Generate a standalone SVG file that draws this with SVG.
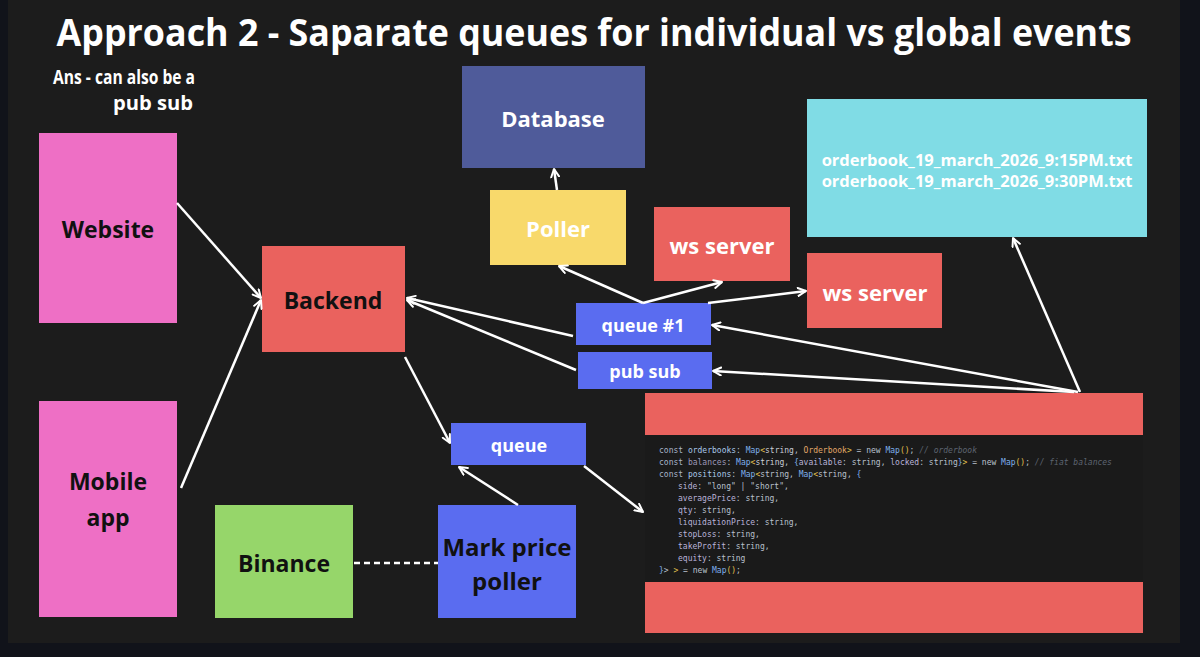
<svg xmlns="http://www.w3.org/2000/svg" width="1200" height="657" viewBox="0 0 1200 657">
<defs>
<marker id="ah" viewBox="0 0 10 10" refX="9" refY="5" markerWidth="10" markerHeight="10" markerUnits="userSpaceOnUse" orient="auto">
<path d="M1,1 L9,5 L1,9" fill="none" stroke="#ffffff" stroke-width="2" stroke-linecap="round" stroke-linejoin="round"/>
</marker>
<style>
.lbl{font-family:"Open Sans","Liberation Sans",sans-serif;font-weight:700;text-anchor:middle;dominant-baseline:central}
.w{fill:#ffffff}
.k{fill:#111111}
.conn{stroke:#ffffff;stroke-width:2.5;fill:none;marker-end:url(#ah)}
.code{font-family:"DejaVu Sans Mono","Liberation Mono",monospace;font-size:8px;fill:#b9c0cc}
.kw{fill:#a8b4c8}.id{fill:#a9c7e8}.ty{fill:#7fb0ec}.br{fill:#e3c14e}.ob{fill:#e2a769}.cm{fill:#5d6470;font-style:italic}.pr{fill:#b9b3d9}.st{fill:#c9cdd6}.dim{fill:#9d98b8}
</style>
</defs>
<rect x="0" y="0" width="1200" height="657" fill="#11131a"/>
<rect x="8" y="0" width="1172" height="643" fill="#1c1c1c"/>
<text x="594" y="46" font-family="Open Sans, Liberation Sans, sans-serif" font-weight="700" font-size="38" fill="#ffffff" text-anchor="middle" textLength="1075" lengthAdjust="spacingAndGlyphs">Approach 2 - Saparate queues for individual vs global events</text>
<text x="124" y="84" font-family="Open Sans, Liberation Sans, sans-serif" font-weight="700" font-size="20" fill="#ffffff" text-anchor="middle" textLength="142" lengthAdjust="spacingAndGlyphs">Ans - can also be a</text>
<text x="153" y="110" font-family="Open Sans, Liberation Sans, sans-serif" font-weight="700" font-size="20" fill="#ffffff" text-anchor="middle" textLength="80" lengthAdjust="spacingAndGlyphs">pub sub</text>

<g id="database"><rect x="462" y="66" width="183" height="102" fill="#4f5b9a"/><text class="lbl w" x="553" y="118" font-size="22">Database</text></g>
<g id="poller"><rect x="490" y="190" width="136" height="75" fill="#f8d96b"/><text class="lbl w" x="558" y="228" font-size="22">Poller</text></g>
<g id="ws1"><rect x="654" y="207" width="136" height="74" fill="#ea625e"/><text class="lbl w" x="722" y="245" font-size="22">ws server</text></g>
<g id="ws2"><rect x="807" y="253" width="135" height="75" fill="#ea625e"/><text class="lbl w" x="875" y="292" font-size="22">ws server</text></g>
<g id="files"><rect x="807" y="99" width="340" height="138" fill="#80dce5"/>
<text class="lbl w" x="977" y="159" font-size="16.5">orderbook_19_march_2026_9:15PM.txt</text>
<text class="lbl w" x="977" y="180" font-size="16.5">orderbook_19_march_2026_9:30PM.txt</text></g>
<g id="website"><rect x="39" y="133" width="138" height="190" fill="#ee6fc5"/><text class="lbl k" x="108" y="229" font-size="23">Website</text></g>
<g id="mobile"><rect x="39" y="401" width="138" height="216" fill="#ee6fc5"/><text class="lbl k" x="108" y="481" font-size="23">Mobile</text><text class="lbl k" x="108" y="517" font-size="23">app</text></g>
<g id="backend"><rect x="262" y="246" width="143" height="106" fill="#ea625e"/><text class="lbl k" x="333" y="300" font-size="23">Backend</text></g>
<g id="queue1"><rect x="576" y="303" width="135" height="42" fill="#5a6cf0"/><text class="lbl w" x="643" y="325" font-size="18">queue #1</text></g>
<g id="pubsub"><rect x="578" y="352" width="134" height="37" fill="#5a6cf0"/><text class="lbl w" x="645" y="371" font-size="18">pub sub</text></g>
<g id="queue"><rect x="451" y="423" width="135" height="42" fill="#5a6cf0"/><text class="lbl w" x="519" y="445" font-size="18">queue</text></g>
<g id="binance"><rect x="215" y="505" width="138" height="113" fill="#96d66a"/><text class="lbl k" x="284" y="563" font-size="23">Binance</text></g>
<g id="markprice"><rect x="438" y="505" width="138" height="113" fill="#5a6cf0"/><text class="lbl k" x="507" y="546" font-size="24">Mark price</text><text class="lbl k" x="507" y="580" font-size="24">poller</text></g>

<g id="engine">
<rect x="645" y="393" width="498" height="240" fill="#1a1a1a"/>
<rect x="645" y="393" width="498" height="42" fill="#ea625e"/>
<rect x="645" y="582" width="498" height="51" fill="#ea625e"/>
<text class="code" xml:space="preserve"><tspan x="659" y="453"><tspan class="kw">const</tspan> <tspan class="id">orderbooks</tspan>: <tspan class="ty">Map</tspan><tspan class="br">&lt;</tspan><tspan class="st">string</tspan>, <tspan class="ob">Orderbook</tspan><tspan class="br">&gt;</tspan> = new <tspan class="ty">Map</tspan><tspan class="br">()</tspan>; <tspan class="cm">// orderbook</tspan></tspan><tspan x="659" y="465"><tspan class="kw">const</tspan> <tspan class="dim">balances</tspan>: <tspan class="ty">Map</tspan><tspan class="br">&lt;</tspan><tspan class="st">string</tspan>, <tspan class="ty">{</tspan><tspan class="pr">available</tspan>: string, <tspan class="pr">locked</tspan>: string<tspan class="ty">}</tspan><tspan class="br">&gt;</tspan> = new <tspan class="ty">Map</tspan><tspan class="br">()</tspan>; <tspan class="cm">// fiat balances</tspan></tspan><tspan x="659" y="477"><tspan class="kw">const</tspan> <tspan class="id">positions</tspan>: <tspan class="ty">Map</tspan><tspan class="br">&lt;</tspan>string, <tspan class="ty">Map</tspan><tspan class="br">&lt;</tspan>string, <tspan class="ty">{</tspan></tspan><tspan x="678" y="489"><tspan class="pr">side</tspan>: "long" | "short",</tspan><tspan x="678" y="501"><tspan class="pr">averagePrice</tspan>: string,</tspan><tspan x="678" y="513"><tspan class="pr">qty</tspan>: string,</tspan><tspan x="678" y="525"><tspan class="pr">liquidationPrice</tspan>: string,</tspan><tspan x="678" y="537"><tspan class="pr">stopLoss</tspan>: string,</tspan><tspan x="678" y="549"><tspan class="pr">takeProfit</tspan>: string,</tspan><tspan x="678" y="561"><tspan class="pr">equity</tspan>: string</tspan><tspan x="659" y="573"><tspan class="ty">}</tspan>&gt; <tspan class="br">&gt;</tspan> = new <tspan class="ty">Map</tspan><tspan class="br">()</tspan>;</tspan></text>
</g>

<g id="connectors">
<line class="conn" x1="177" y1="203" x2="261" y2="298"/>
<line class="conn" x1="181" y1="488" x2="261" y2="300"/>
<line class="conn" x1="573" y1="336" x2="407" y2="298"/>
<line class="conn" x1="576" y1="370" x2="407" y2="300"/>
<line class="conn" x1="405" y1="357" x2="450" y2="443"/>
<line class="conn" x1="518" y1="505" x2="459" y2="467"/>
<line class="conn" x1="584" y1="466" x2="643" y2="512"/>
<line class="conn" x1="643" y1="303" x2="559" y2="266"/>
<line class="conn" x1="643" y1="303" x2="722" y2="282"/>
<line class="conn" x1="708" y1="303" x2="806" y2="291"/>
<line class="conn" x1="557" y1="190" x2="554" y2="169"/>
<line class="conn" x1="1078" y1="392" x2="712" y2="325"/>
<line class="conn" x1="1074" y1="392" x2="713" y2="371"/>
<line class="conn" x1="1080" y1="392" x2="1013" y2="238"/>
<line x1="354" y1="563" x2="438" y2="563" stroke="#ffffff" stroke-width="2.5" stroke-dasharray="6 4"/>
</g>
</svg>
